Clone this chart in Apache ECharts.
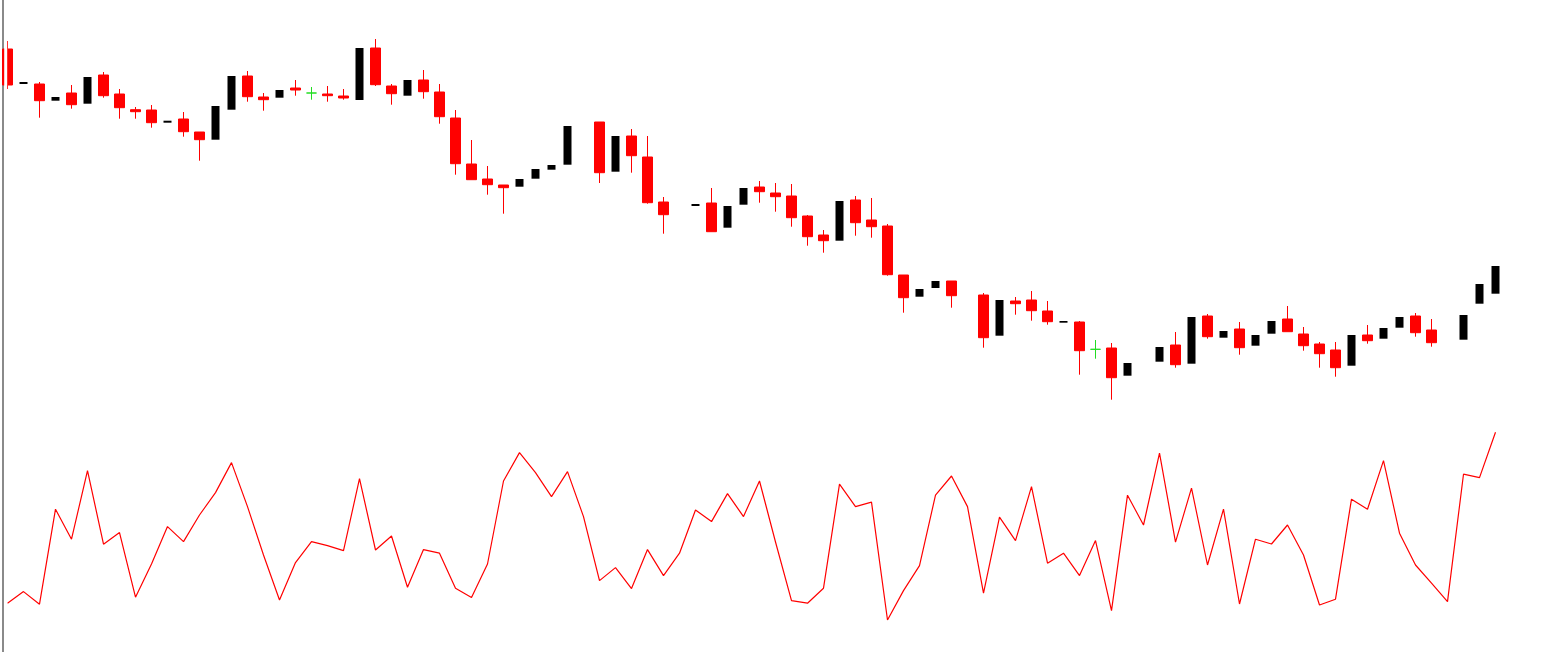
<!DOCTYPE html>
<html>
<head>
<meta charset="utf-8">
<script src="https://cdn.jsdelivr.net/npm/echarts@6/dist/echarts.min.js"></script>
<style>
html,body{margin:0;padding:0;background:#fff;}
#chart{width:1564px;height:652px;}
</style>
</head>
<body>
<div id="chart"></div>
<script>
// ---- data ----
var opens  = [160.3,156.8,156.8,155.13,155.9,154.83,157.7,155.8,154.23,154.2,152.93,153.3,152.0,151.23,154.23,157.6,155.5,155.43,156.4,155.9,155.8,155.6,155.2,160.4,156.6,155.63,157.2,156.0,153.4,148.8,147.3,146.7,146.53,147.33,148.23,148.73,null,153.0,148.03,151.6,149.5,145.0,null,144.6,144.9,142.43,144.73,146.5,145.9,145.6,143.6,141.7,141.13,145.2,143.2,142.6,137.7,135.53,136.4,137.1,null,135.7,131.63,135.1,135.2,134.1,132.93,133.0,130.27,130.4,127.63,null,129.03,130.7,128.83,133.6,131.43,132.3,130.63,131.83,133.3,131.8,130.8,130.2,128.63,131.7,131.33,132.43,133.6,132.2,null,131.23,134.83,135.83];
var closes = [156.7,157.0,155.13,155.5,154.73,157.5,155.63,154.43,154.03,152.93,153.13,152.03,151.23,154.6,157.6,155.53,155.23,156.2,156.2,155.9,155.63,155.4,160.4,156.73,155.83,157.2,156.03,153.53,148.83,147.23,146.73,146.43,147.3,148.3,148.7,152.6,null,147.93,151.6,149.63,144.93,143.73,null,144.8,142.03,144.6,146.4,146.03,145.53,143.43,141.53,141.13,145.1,142.93,142.53,137.73,135.43,136.3,137.1,135.63,null,131.43,135.2,134.83,134.13,133.03,133.1,130.13,130.27,127.43,128.9,null,130.5,128.73,133.5,131.53,132.1,130.43,131.7,133.1,132.03,130.63,129.83,128.43,131.7,131.13,132.4,133.5,131.93,130.93,null,133.7,136.8,138.6];
var lows   = [156.3,156.8,153.43,155.13,154.33,154.83,155.43,153.33,153.33,152.43,152.93,151.53,149.13,151.23,154.23,155.03,154.13,155.43,155.63,155.23,155.03,155.23,155.2,156.6,154.73,155.63,155.33,152.83,147.73,147.23,145.73,143.83,146.53,147.33,148.23,148.73,null,146.9,148.03,147.93,144.83,141.83,null,144.6,142.03,142.43,144.73,144.93,144.03,142.53,140.63,139.93,141.13,141.63,141.43,137.63,133.93,135.53,136.4,134.43,null,130.43,131.63,133.73,133.13,132.73,132.93,127.73,129.33,125.23,127.63,null,129.03,128.43,128.83,131.33,131.43,129.73,130.63,131.83,132.03,130.13,128.43,127.53,128.63,130.83,131.33,132.43,131.53,130.53,null,131.23,134.83,135.83];
var highs  = [161.1,157.0,157.0,155.5,156.7,157.5,158.0,156.3,154.5,154.7,153.13,154.0,152.0,154.6,157.6,158.1,155.9,156.2,157.2,156.5,156.6,156.3,160.4,161.3,156.8,157.2,158.2,156.8,154.2,151.2,148.6,146.7,147.3,148.3,148.7,152.6,null,153.0,151.6,152.3,151.6,145.5,null,144.8,146.4,144.6,146.4,147.1,146.9,146.8,143.7,142.2,145.1,145.6,145.4,142.8,137.7,136.3,137.1,137.1,null,135.9,135.2,135.5,136.1,135.1,133.1,133.1,131.2,130.9,128.9,null,130.5,132.0,133.5,133.8,132.1,133.0,131.7,133.1,134.6,132.5,131.0,131.0,131.7,132.7,132.4,133.5,133.9,133.3,null,133.7,136.8,138.6];
var oscillator = [13.4,19.2,12.9,60.4,45.4,79.7,42.9,48.7,16.4,33.0,51.7,44.2,57.5,68.7,83.7,61.7,37.5,15.0,33.7,44.2,42.2,39.7,75.7,40.0,47.0,21.4,40.2,38.4,20.9,16.2,33.0,74.5,88.7,78.7,66.7,79.2,56.7,24.7,31.2,20.7,40.2,27.2,38.4,60.0,54.2,68.2,56.7,74.5,44.0,14.7,13.4,20.9,72.9,61.7,63.9,5.0,19.7,32.2,67.4,77.0,61.7,18.4,56.4,44.7,71.7,33.4,38.4,27.2,44.7,9.7,67.4,52.5,88.4,43.9,70.9,32.5,60.4,13.0,45.4,43.0,52.5,37.5,12.5,15.4,65.4,60.4,84.7,48.4,32.5,23.4,14.2,77.9,76.2,98.9];
var emptySlots = 4; // blank space to the right of the last bar
var categories = [];
for (var i = 0; i < opens.length + emptySlots; i++) categories.push(String(i + 1));

// ---- build series data ----
var upData = [], downData = [];
for (var i = 0; i < categories.length; i++) {
  var o = opens[i], c = closes[i];
  if (o == null || c == null) { upData.push('-'); downData.push('-'); continue; }
  var item = [o, c, lows[i], highs[i]];
  if (c > o) { upData.push(item); downData.push('-'); }
  else { downData.push(item); upData.push('-'); }
}

var chart = echarts.init(document.getElementById('chart'), null, {renderer: 'canvas'});
chart.setOption({
  animation: false,
  backgroundColor: '#ffffff',
  grid: [
    {left: 7.5, right: 4.5, top: 0, bottom: 0},
    {left: 7.5, right: 4.5, top: 430, height: 200}
  ],
  xAxis: [
    {type: 'category', gridIndex: 0, data: categories, boundaryGap: false, show: false},
    {type: 'category', gridIndex: 1, data: categories, boundaryGap: false, show: false}
  ],
  yAxis: [
    {type: 'value', gridIndex: 0, min: 100, max: 165.2, position: 'left', offset: 4.5,
     axisLine: {show: true, lineStyle: {color: '#8a8a8a', width: 2}},
     axisTick: {show: false}, axisLabel: {show: false}, splitLine: {show: false}},
    {type: 'value', gridIndex: 1, min: 0, max: 100, show: false, splitLine: {show: false}}
  ],
  // white strip between the frame line and the plot edge (clips the first bar like the reference)
  graphic: [
    {type: 'rect', silent: true, z: 100, shape: {x: 4.2, y: 0, width: 3, height: 652}, style: {fill: '#ffffff'}}
  ],
  series: [
    {
      type: 'candlestick', xAxisIndex: 0, yAxisIndex: 0, data: downData, barWidth: 10,
      itemStyle: {color: '#ff0000', color0: '#ff0000', borderColor: '#ff0000', borderColor0: '#ff0000',
                  borderColorDoji: '#22dd22', borderWidth: 1}
    },
    {
      type: 'candlestick', xAxisIndex: 0, yAxisIndex: 0, data: upData, barWidth: 9,
      itemStyle: {color: '#000000', color0: '#000000', borderColor: '#000000', borderColor0: '#000000', borderWidth: 0}
    },
    {
      type: 'line', xAxisIndex: 1, yAxisIndex: 1, data: oscillator, symbol: 'none',
      lineStyle: {color: '#ff0000', width: 1.2}
    }
  ]
});
</script>
</body>
</html>
